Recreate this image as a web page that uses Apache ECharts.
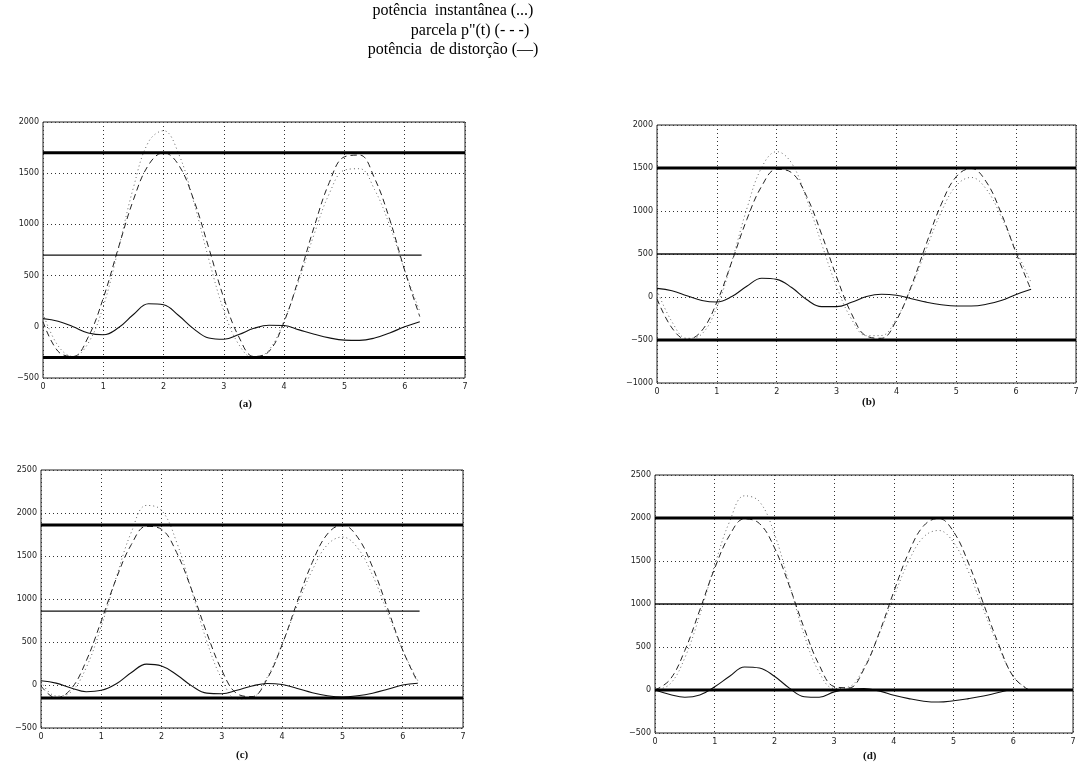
<!DOCTYPE html>
<html><head><meta charset="utf-8">
<script src="https://cdn.jsdelivr.net/npm/echarts@6/dist/echarts.min.js"></script>
<style>html,body{margin:0;padding:0;background:#fff}#c{width:1087px;height:772px}</style>
</head><body><div id="c"></div>
<script>
// time samples (rad)
const t = [0,0.25,0.5,0.75,1.0,1.25,1.5,1.75,2.0,2.25,2.5,2.75,3.0,3.25,3.5,3.75,4.0,4.25,4.5,4.75,5.0,5.25,5.5,5.75,6.0,6.25];
const xTicks = [0,1,2,3,4,5,6,7];

// (a)
const aDashed = [50,-240,-290,-100,280,770,1240,1580,1700,1580,1240,770,280,-100,-290,-240,50,490,980,1410,1660,1677,1450,1050,550,100];
const aSolid  = [80,55,0,-60,-78,-10,120,225,215,110,-20,-110,-122,-75,-15,15,12,-30,-72,-108,-130,-133,-110,-60,0,50];
const aDotted = [130,-185,-290,-160,200,760,1360,1805,1915,1690,1220,660,158,-175,-305,-225,62,460,908,1302,1530,1544,1340,990,550,150];
const aLevels = {max:1700, min:-300, mean:700};
const aY = {min:-500, max:2000};

// (b)
const bDashed = [-20,-360,-495,-390,-60,410,900,1290,1485,1445,1170,730,235,-195,-455,-480,-270,130,620,1080,1400,1495,1340,975,510,80];
const bSolid  = [100,72,15,-40,-58,5,125,218,205,110,-30,-112,-112,-62,5,32,20,-20,-60,-90,-105,-105,-85,-40,30,90];
const bDotted = [80,-288,-480,-430,-118,415,1025,1508,1690,1555,1140,618,123,-257,-450,-448,-250,110,560,990,1295,1390,1255,935,540,170];
const bLevels = {max:1500, min:-500, mean:500};
const bY = {min:-1000, max:2000};

// (c)
const cDashed = [-10,-150,-45,280,745,1240,1635,1845,1810,1540,1105,605,170,-100,-135,70,470,965,1425,1755,1860,1720,1370,890,405,30];
const cSolid  = [50,22,-35,-78,-62,15,145,243,222,120,-10,-95,-102,-62,-12,18,5,-40,-90,-125,-140,-125,-95,-50,0,20];
const cDotted = [40,-128,-80,202,683,1255,1780,2088,2032,1660,1095,510,68,-162,-147,88,475,925,1335,1630,1720,1595,1275,840,405,50];
const cLevels = {max:1860, min:-150, mean:860};
const cY = {min:-500, max:2500};

// (d)
const dDashed = [0,120,460,930,1415,1800,1990,1935,1655,1210,715,290,40,25,245,655,1145,1600,1910,1995,1840,1475,1005,540,155,5];
const dSolid  = [0,-52,-85,-58,38,160,268,255,160,22,-78,-85,-22,12,18,-10,-60,-100,-130,-140,-125,-100,-70,-30,5,0];
const dDotted = [0,68,375,872,1453,1960,2258,2190,1815,1232,637,205,18,37,263,645,1085,1500,1780,1855,1715,1375,935,510,160,5];
const dLevels = {max:2000, min:0, mean:1000};
const dY = {min:-500, max:2500};

const panels = [
  {dashed:aDashed, solid:aSolid, dotted:aDotted, lv:aLevels, y:aY, meanEnd:6.28, label:'(a)',
   grid:{left:43, top:122, width:422, height:256}, lab:[248,406]},
  {dashed:bDashed, solid:bSolid, dotted:bDotted, lv:bLevels, y:bY, meanEnd:7, label:'(b)',
   grid:{left:657, top:125, width:419, height:258}, lab:[871,404]},
  {dashed:cDashed, solid:cSolid, dotted:cDotted, lv:cLevels, y:cY, meanEnd:6.28, label:'(c)',
   grid:{left:41, top:470, width:422, height:258}, lab:[245,757]},
  {dashed:dDashed, solid:dSolid, dotted:dDotted, lv:dLevels, y:dY, meanEnd:7, label:'(d)',
   grid:{left:655, top:475, width:418, height:258}, lab:[872,758]}
];

function pairs(ys){ return t.map((x,i)=>[x, ys[i]]); }

const grids=[], xAxes=[], yAxes=[], series=[], graphics=[];
const axisLabelStyle = {fontFamily:'DejaVu Sans', fontSize:8, color:'#222'};
panels.forEach((p,i)=>{
  grids.push(Object.assign({show:true, borderColor:'#222', borderWidth:1, backgroundColor:'transparent'}, p.grid));
  xAxes.push({type:'value', gridIndex:i, min:0, max:7, interval:1,
    axisLine:{show:false}, axisTick:{show:false},
    axisLabel:Object.assign({margin:5, formatter:v=>String(v)}, axisLabelStyle),
    splitLine:{show:true, lineStyle:{color:'#333', type:[1,3], width:1}}});
  yAxes.push({type:'value', gridIndex:i, min:p.y.min, max:p.y.max, interval:500,
    axisLine:{show:false}, axisTick:{show:false},
    axisLabel:Object.assign({margin:4, formatter:v=>(v<0?'\u2212'+(-v):String(v))}, axisLabelStyle),
    splitLine:{show:true, lineStyle:{color:'#333', type:[1,3], width:1}}});
  const common = {xAxisIndex:i, yAxisIndex:i, showSymbol:false, symbol:'none', silent:true, animation:false};
  series.push(Object.assign({type:'line', data:pairs(p.dotted), smooth:0.4,
    lineStyle:{color:'#666', width:1, type:[1,3]}}, common));
  series.push(Object.assign({type:'line', data:pairs(p.dashed), smooth:0.4,
    lineStyle:{color:'#222', width:1, type:[6,4]}}, common));
  series.push(Object.assign({type:'line', data:pairs(p.solid), smooth:0.4,
    lineStyle:{color:'#111', width:1.1}}, common));
  series.push(Object.assign({type:'line', data:[[0,p.lv.max],[7,p.lv.max]],
    lineStyle:{color:'#000', width:3}}, common));
  series.push(Object.assign({type:'line', data:[[0,p.lv.min],[7,p.lv.min]],
    lineStyle:{color:'#000', width:3}}, common));
  series.push(Object.assign({type:'line', data:[[0,p.lv.mean],[p.meanEnd,p.lv.mean]],
    lineStyle:{color:'#111', width:1.3}}, common));
  graphics.push({type:'text', left:p.lab[0]-9, top:p.lab[1]-7,
    style:{text:p.label, font:'bold 11px "Liberation Serif"', fill:'#111'}});
});

const titleFont = '16px "Liberation Serif"';
graphics.push({type:'text', x:453, y:3, style:{text:'potência  instantânea (...)', font:titleFont, fill:'#000', textAlign:'center'}});
graphics.push({type:'text', x:470, y:23, style:{text:'parcela p"(t) (- - -)', font:titleFont, fill:'#000', textAlign:'center'}});
graphics.push({type:'text', x:453, y:42, style:{text:'potência  de distorção (—)', font:titleFont, fill:'#000', textAlign:'center'}});

const chart = echarts.init(document.getElementById('c'), null, {renderer:'canvas'});
chart.setOption({animation:false, grid:grids, xAxis:xAxes, yAxis:yAxes, series:series, graphic:graphics});
</script></body></html>
